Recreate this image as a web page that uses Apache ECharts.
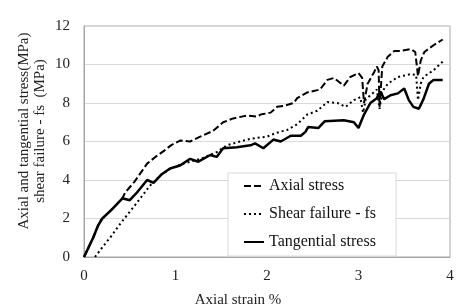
<!DOCTYPE html>
<html>
<head>
<meta charset="utf-8">
<script src="https://cdn.jsdelivr.net/npm/echarts@6/dist/echarts.min.js"></script>
<style>
  html, body { margin: 0; padding: 0; background: #fff; }
  #chart { width: 468px; height: 308px; }
</style>
</head>
<body>
<div id="chart"></div>
<script>
// axial stress (dashed)
var axialStrain = [0, 0.05, 0.1, 0.18, 0.3, 0.42, 0.45, 0.55, 0.69, 0.78, 0.87, 0.95, 1.05, 1.16, 1.27, 1.41, 1.52, 1.63, 1.78, 1.89, 1.93, 2.04, 2.11, 2.18, 2.29, 2.33, 2.44, 2.58, 2.66, 2.73, 2.84, 2.91, 3.0, 3.04, 3.06, 3.1, 3.17, 3.2, 3.22, 3.23, 3.26, 3.32, 3.39, 3.46, 3.57, 3.62, 3.65, 3.68, 3.72, 3.82, 3.92];
var axialStress = [0, 0.5, 1.0, 1.9, 2.45, 3.05, 3.35, 3.9, 4.85, 5.2, 5.5, 5.8, 6.05, 6.0, 6.25, 6.55, 7.0, 7.2, 7.35, 7.3, 7.4, 7.5, 7.8, 7.85, 8.0, 8.25, 8.55, 8.7, 9.2, 9.3, 8.9, 9.35, 9.55, 9.3, 8.0, 9.0, 9.6, 9.9, 9.7, 7.8, 9.9, 10.4, 10.7, 10.7, 10.8, 10.65, 9.4, 10.2, 10.65, 11.0, 11.3];

// shear failure - fs (dotted)
var shearStrain = [0.12, 0.2, 0.3, 0.4, 0.5, 0.6, 0.72, 0.85, 0.95, 1.05, 1.2, 1.3, 1.45, 1.56, 1.67, 1.78, 1.9, 2.0, 2.1, 2.22, 2.33, 2.44, 2.55, 2.66, 2.77, 2.86, 2.95, 3.02, 3.05, 3.08, 3.13, 3.2, 3.23, 3.26, 3.32, 3.43, 3.57, 3.63, 3.65, 3.68, 3.71, 3.82, 3.92];
var shearStress = [0, 0.5, 1.1, 1.75, 2.35, 2.95, 3.7, 4.3, 4.6, 4.8, 5.0, 5.15, 5.45, 5.8, 5.95, 6.1, 6.2, 6.25, 6.45, 6.6, 6.9, 7.4, 7.6, 8.05, 8.0, 7.8, 8.15, 8.3, 7.5, 8.2, 8.4, 8.7, 7.7, 8.6, 9.0, 9.35, 9.5, 9.45, 8.15, 9.0, 9.35, 9.7, 10.15];

// tangential stress (solid)
var tangStrain = [0, 0.05, 0.1, 0.15, 0.2, 0.3, 0.42, 0.5, 0.57, 0.69, 0.76, 0.85, 0.94, 1.05, 1.16, 1.25, 1.38, 1.45, 1.52, 1.67, 1.82, 1.87, 1.96, 2.07, 2.15, 2.26, 2.37, 2.42, 2.45, 2.56, 2.63, 2.84, 2.95, 3.0, 3.06, 3.13, 3.2, 3.24, 3.28, 3.35, 3.43, 3.5, 3.55, 3.6, 3.66, 3.71, 3.77, 3.82, 3.92];
var tangStress = [0, 0.5, 1.0, 1.6, 2.0, 2.45, 3.05, 2.95, 3.3, 4.0, 3.85, 4.3, 4.6, 4.75, 5.1, 4.95, 5.3, 5.2, 5.65, 5.7, 5.8, 5.9, 5.65, 6.1, 6.0, 6.3, 6.3, 6.5, 6.75, 6.7, 7.05, 7.1, 7.0, 6.7, 7.4, 8.0, 8.25, 8.6, 8.2, 8.4, 8.5, 8.75, 8.15, 7.8, 7.7, 8.2, 9.0, 9.2, 9.2];

var seriesNames = ['Axial stress', 'Shear failure - fs', 'Tangential stress'];

function pairs(xs, ys) {
    var out = [];
    for (var i = 0; i < xs.length; i++) {
        out.push([xs[i], ys[i]]);
    }
    return out;
}

var font = "'Liberation Serif', 'Times New Roman', serif";
var myChart = echarts.init(document.getElementById('chart'));

var option = {
    animation: false,
    backgroundColor: '#fff',
    grid: {
        left: 84,
        right: 18,
        top: 26,
        bottom: 51,
        show: true,
        borderColor: '#a6a6a6',
        borderWidth: 1
    },
    legend: {
        data: seriesNames,
        orient: 'vertical',
        left: 228,
        top: 173,
        padding: [5, 20, 6, 15],
        itemGap: 12,
        itemWidth: 20,
        itemHeight: 15,
        borderColor: '#d9d9d9',
        borderWidth: 1,
        backgroundColor: '#fff',
        itemStyle: { opacity: 0 },
        textStyle: { fontFamily: font, fontSize: 16, color: '#111' }
    },
    xAxis: {
        type: 'value',
        min: 0,
        max: 4,
        interval: 1,
        axisLine: { show: true, lineStyle: { color: '#a6a6a6' } },
        axisTick: { show: false },
        splitLine: { show: false },
        axisLabel: { fontFamily: font, fontSize: 15, color: '#222', margin: 12 }
    },
    yAxis: {
        type: 'value',
        min: 0,
        max: 12,
        interval: 2,
        axisLine: { show: true, lineStyle: { color: '#a6a6a6' } },
        axisTick: { show: false },
        splitLine: { show: true, lineStyle: { color: '#d9d9d9' } },
        axisLabel: { fontFamily: font, fontSize: 15, color: '#222', margin: 14 }
    },
    graphic: [{
        type: 'text',
        x: 32,
        y: 131,
        rotation: Math.PI / 2,
        style: {
            text: 'Axial and tangential stress(MPa)\nshear failure - fs  (MPa)',
            font: '15px ' + font,
            fill: '#222',
            align: 'center',
            verticalAlign: 'middle',
            lineHeight: 16
        }
    }, {
        type: 'text',
        x: 238,
        y: 300,
        style: {
            text: 'Axial strain %',
            font: '15px ' + font,
            fill: '#222',
            align: 'center',
            verticalAlign: 'middle'
        }
    }],
    series: [{
        name: seriesNames[0],
        type: 'line',
        symbol: 'none',
        data: pairs(axialStrain, axialStress),
        lineStyle: { color: '#000', width: 2, type: [7, 3] },
        itemStyle: { color: '#000' }
    }, {
        name: seriesNames[1],
        type: 'line',
        symbol: 'none',
        data: pairs(shearStrain, shearStress),
        lineStyle: { color: '#000', width: 2, type: [2, 3] },
        itemStyle: { color: '#000' }
    }, {
        name: seriesNames[2],
        type: 'line',
        symbol: 'none',
        data: pairs(tangStrain, tangStress),
        lineStyle: { color: '#000', width: 2.5, type: 'solid' },
        itemStyle: { color: '#000' }
    }]
};

myChart.setOption(option);
</script>
</body>
</html>
